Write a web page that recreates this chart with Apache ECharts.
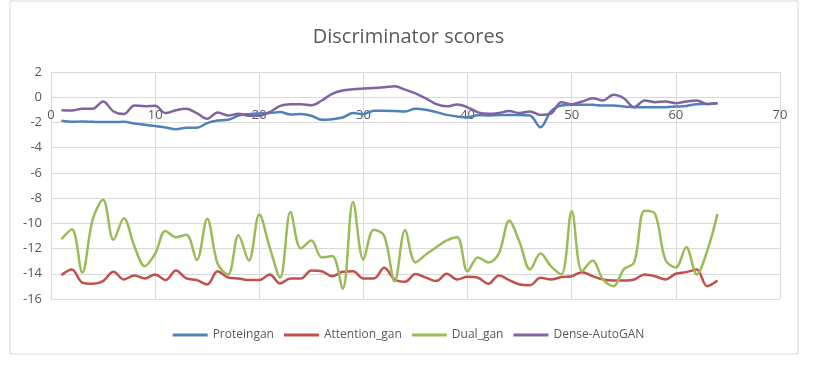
<!DOCTYPE html>
<html>
<head>
    <meta charset="utf-8">
    <title>Discriminator scores</title>
    <script src="https://cdn.jsdelivr.net/npm/echarts@6/dist/echarts.min.js"></script>
    <style>
        html, body { margin: 0; padding: 0; background: #fff; }
        #chart { width: 817px; height: 365px; }
    </style>
</head>
<body>
<div id="chart"></div>
<script type="text/javascript">
    // 数据，x = 1..64
    var seriesNames = ['Proteingan', 'Attention_gan', 'Dual_gan', 'Dense-AutoGAN'];
    var colors = ['#4F81BD', '#C0504D', '#9BBB59', '#8064A2'];

    var proteingan = [
        -1.87, -1.95, -1.92, -1.95, -1.97, -1.97, -1.95, -2.08, -2.18, -2.29,
        -2.4, -2.53, -2.42, -2.42, -2.05, -1.84, -1.79, -1.45, -1.34, -1.29,
        -1.26, -1.18, -1.37, -1.34, -1.47, -1.79, -1.74, -1.61, -1.26, -1.34,
        -1.08, -1.08, -1.1, -1.13, -0.92, -1.0, -1.18, -1.4, -1.53, -1.6,
        -1.42, -1.45, -1.4, -1.4, -1.4, -1.45, -2.38, -1.13, -0.66, -0.6,
        -0.6, -0.6, -0.66, -0.66, -0.74, -0.79, -0.79, -0.79, -0.79, -0.74,
        -0.69, -0.55, -0.53, -0.47
    ];
    var attentionGan = [
        -14.1, -13.66, -14.7, -14.8, -14.58, -13.84, -14.45, -14.13, -14.37, -14.05,
        -14.5, -13.74, -14.37, -14.5, -14.85, -13.8, -14.3, -14.37, -14.5, -14.5,
        -14.05, -14.77, -14.37, -14.37, -13.74, -13.8, -14.2, -13.84, -13.8, -14.37,
        -14.37, -13.53, -14.45, -14.63, -14.02, -14.3, -14.58, -14.0, -14.45, -14.24,
        -14.32, -14.79, -14.13, -14.5, -14.85, -14.9, -14.32, -14.45, -14.26, -14.19,
        -13.87, -14.19, -14.45, -14.53, -14.53, -14.45, -14.05, -14.19, -14.45, -14.0,
        -13.87, -13.66, -14.98, -14.53
    ];
    var dualGan = [
        -11.26, -10.46, -13.9, -9.7, -8.13, -11.3, -9.6, -11.8, -13.4, -12.4,
        -10.6, -11.1, -10.9, -12.9, -9.64, -13.2, -14.05, -10.94, -12.95, -9.3,
        -11.9, -14.3, -9.1, -12.0, -11.36, -12.7, -12.6, -15.2, -8.3, -12.87,
        -10.5, -11.0, -14.6, -10.55, -13.1, -12.47, -11.9, -11.36, -11.1, -13.8,
        -12.7, -13.1, -12.4, -9.8, -11.5, -13.65, -12.4, -13.4, -14.05, -9.05,
        -13.8, -12.95, -14.45, -14.98, -13.65, -13.1, -9.0, -9.25, -12.9, -13.5,
        -11.9, -14.05, -12.2, -9.25
    ];
    var denseAutoGan = [
        -1.03, -1.05, -0.92, -0.92, -0.34, -1.13, -1.34, -0.66, -0.71, -0.68,
        -1.26, -1.03, -0.92, -1.26, -1.71, -1.21, -1.45, -1.31, -1.47, -1.47,
        -1.18, -0.68, -0.55, -0.55, -0.63, -0.26, 0.27, 0.53, 0.63, 0.69,
        0.74, 0.79, 0.87, 0.6, 0.3, -0.1, -0.55, -0.72, -0.58, -0.8,
        -1.2, -1.32, -1.25, -1.1, -1.26, -1.13, -1.4, -1.3, -0.4, -0.55,
        -0.34, -0.08, -0.26, 0.19, -0.08, -0.79, -0.26, -0.39, -0.34, -0.47,
        -0.34, -0.26, -0.53, -0.45
    ];
    var seriesValues = [proteingan, attentionGan, dualGan, denseAutoGan];

    var yMin = -16, yMax = 2;
    var gridTop = 72, gridBottom = 66, chartHeight = 365;

    var myChart = echarts.init(document.getElementById('chart'), null, { renderer: 'canvas' });

    function toPairs(arr) {
        return arr.map(function (v, i) { return [i + 1, v]; });
    }

    // x 轴放在 y = 0 处（Excel 的效果）
    var gridHeight = chartHeight - gridTop - gridBottom;
    var xAxisOffset = -gridHeight * (0 - yMin) / (yMax - yMin);

    var textColor = '#595959';
    var gridColor = '#D9D9D9';
    var font = 'Open Sans';

    myChart.setOption({
        animation: false,
        color: colors,
        title: {
            text: 'Discriminator scores',
            left: 'center',
            top: 22,
            textStyle: { color: textColor, fontSize: 20, fontWeight: 'normal', fontFamily: font }
        },
        legend: {
            data: seriesNames,
            bottom: 19,
            left: 'center',
            icon: 'rect',
            itemWidth: 35,
            itemHeight: 3,
            itemGap: 10,
            textStyle: { color: textColor, fontSize: 12, fontFamily: font }
        },
        // 外框
        graphic: [{
            type: 'rect',
            shape: { x: 10, y: 1, width: 788, height: 353 },
            style: { fill: 'none', stroke: gridColor, lineWidth: 1 },
            silent: true
        }],
        grid: { left: 51, right: 37, top: gridTop, bottom: gridBottom },
        xAxis: {
            type: 'value',
            min: 0,
            max: 70,
            interval: 10,
            offset: xAxisOffset,
            axisLine: { onZero: false, lineStyle: { color: gridColor } },
            axisTick: { show: false },
            axisLabel: { color: textColor, fontSize: 13, fontFamily: font, margin: 12 },
            splitLine: { show: true, lineStyle: { color: gridColor } }
        },
        yAxis: {
            type: 'value',
            min: yMin,
            max: yMax,
            interval: 2,
            axisLine: { show: false },
            axisTick: { show: false },
            axisLabel: { color: textColor, fontSize: 13, fontFamily: font, margin: 9 },
            splitLine: { show: true, lineStyle: { color: gridColor } }
        },
        series: seriesValues.map(function (vals, k) {
            return {
                name: seriesNames[k],
                type: 'line',
                data: toPairs(vals),
                smooth: 0.35,
                showSymbol: false,
                lineStyle: { width: 2.5, color: colors[k] },
                itemStyle: { color: colors[k] }
            };
        })
    });
</script>
</body>
</html>
